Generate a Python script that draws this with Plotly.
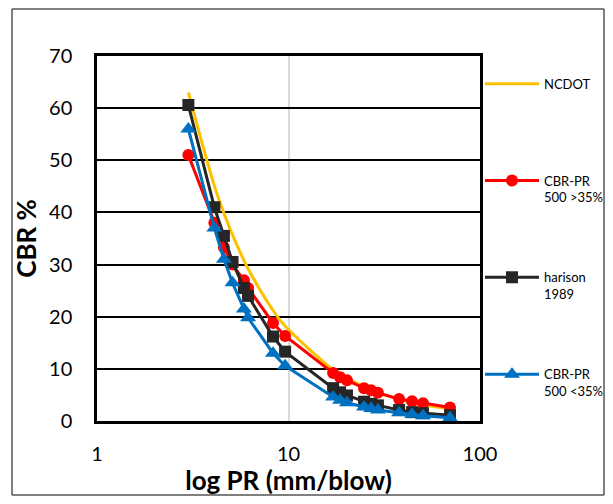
import plotly.graph_objects as go

# PR values (mm/blow)
pr = [3.0, 4.1, 4.6, 5.1, 5.85, 6.15, 8.3, 9.6, 17.1, 18.6, 20.2, 24.8, 27.0, 29.3, 37.8, 44.2, 50.4, 69.7]

ncdot = [63.0, 45.1, 39.9, 35.7, 30.8, 29.2, 21.2, 18.2, 9.8, 9.0, 8.2, 6.6, 6.0, 5.5, 4.2, 3.5, 3.1, 2.3]
cbr_gt35 = [51.0, 38.0, 33.3, 30.0, 27.0, 25.5, 18.8, 16.3, 9.2, 8.4, 7.8, 6.3, 5.9, 5.4, 4.2, 3.8, 3.4, 2.6]
harison = [60.6, 41.0, 35.5, 30.5, 25.5, 24.0, 16.2, 13.3, 6.3, 5.5, 4.9, 3.7, 3.3, 3.0, 2.1, 1.7, 1.5, 1.1]
cbr_lt35 = [56.0, 37.0, 31.0, 26.5, 21.5, 19.8, 13.0, 10.6, 4.6, 4.0, 3.5, 2.7, 2.4, 2.1, 1.6, 1.3, 1.0, 0.6]

names = ["NCDOT<br>&nbsp;", "CBR-PR<br>500 >35%", "harison<br>1989", "CBR-PR<br>500 <35%"]

FONT = "Lato, 'Open Sans', sans-serif"

# page body has an 8px default margin; plot area targeted at x 97..480, y 56..421 of the window
W, H = 597, 488
L, T = 89, 48
PW, PH = 383, 365

fig = go.Figure()
fig.add_trace(go.Scatter(x=pr, y=ncdot, name=names[0], mode="lines",
                         line=dict(color="#FFC000", width=3, shape="spline"),
                         legendgroup="a"))
fig.add_trace(go.Scatter(x=pr, y=cbr_gt35, name=names[1], mode="lines+markers",
                         line=dict(color="#FF0000", width=3),
                         marker=dict(symbol="circle", size=12, color="#FF0000"),
                         legendgroup="b"))
fig.add_trace(go.Scatter(x=pr, y=harison, name=names[2], mode="lines+markers",
                         line=dict(color="#262626", width=3),
                         marker=dict(symbol="square", size=12, color="#262626"),
                         legendgroup="c"))
fig.add_trace(go.Scatter(x=pr, y=cbr_lt35, name=names[3], mode="lines+markers",
                         line=dict(color="#0070C0", width=3),
                         marker=dict(symbol="triangle-up", size=14, color="#0070C0"),
                         legendgroup="d"))

fig.update_layout(
    width=W, height=H,
    margin=dict(l=L, r=W - L - PW, t=T, b=H - T - PH, autoexpand=False),
    paper_bgcolor="white", plot_bgcolor="white",
    font=dict(family=FONT, color="#000000"),
    showlegend=True,
    legend=dict(x=1.0, xanchor="left", y=0.965, yanchor="top",
                font=dict(size=13, family=FONT), tracegroupgap=60,
                valign="top", itemwidth=54, bgcolor="rgba(0,0,0,0)"),
    xaxis=dict(type="log", range=[0, 2], tickvals=[1, 10, 100], ticktext=["1", "10", "100"],
               showgrid=True, gridcolor="#D9D9D9", gridwidth=1.5,
               showline=True, linecolor="#000000", linewidth=2.5, mirror=True,
               ticks="", tickfont=dict(size=20), ticklabelstandoff=13, automargin=False,
               title=dict(text="<b>log PR (mm/blow)</b>", font=dict(size=26), standoff=12),
               zeroline=False),
    yaxis=dict(range=[0, 70], dtick=10, showgrid=True, gridcolor="#000000", gridwidth=2,
               showline=True, linecolor="#000000", linewidth=2.5, mirror=True,
               ticks="", tickfont=dict(size=20), ticklabelstandoff=18, automargin=False,
               title=dict(text="<b>CBR %</b>", font=dict(size=26), standoff=5),
               zeroline=False),
    shapes=[dict(type="rect", xref="paper", yref="paper",
                 x0=(12 - 97) / PW, x1=(604 - 97) / PW,
                 y0=(421 - 495) / PH, y1=(421 - 9) / PH,
                 line=dict(color="#000000", width=1), fillcolor="rgba(0,0,0,0)", layer="below")],
)

fig.write_html("out.html")
